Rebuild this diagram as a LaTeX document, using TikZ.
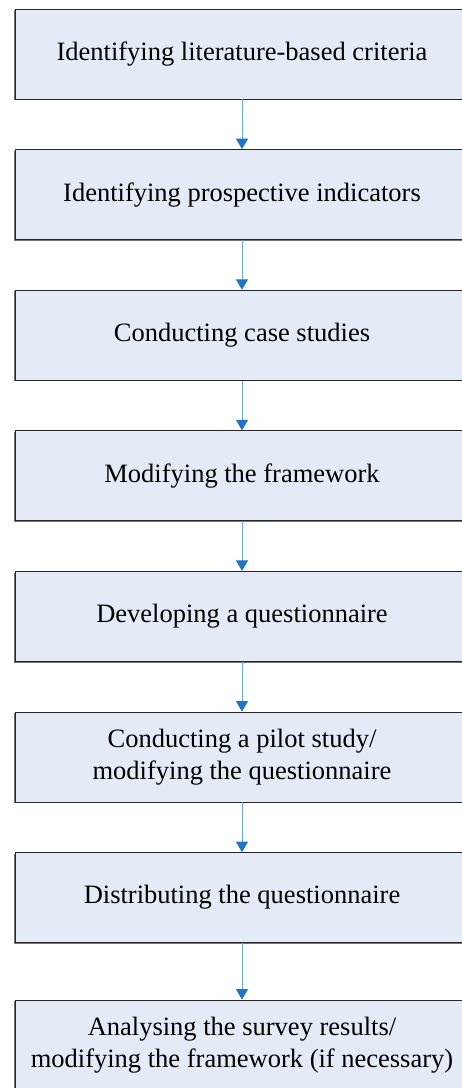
\documentclass[tikz,border=0pt]{standalone}
\usepackage{fontspec}
\setmainfont{Liberation Serif}
\usetikzlibrary{arrows.meta,shadows}
\definecolor{boxfill}{HTML}{E4EBF7}
\definecolor{arrline}{HTML}{6FA8DC}
\definecolor{arrhead}{HTML}{1F74C4}
\begin{document}
\begin{tikzpicture}[x=1pt,y=-1pt,
  stepbox/.style={draw=black!85, line width=0.9pt, fill=boxfill, minimum width=454pt, minimum height=90pt,
    align=center, font=\fontsize{26.5}{32}\selectfont, inner sep=0pt,
    drop shadow={shadow xshift=-1.2pt, shadow yshift=-1.2pt, fill=black!55, opacity=1}},
  conn/.style={draw=arrline, line width=1pt, -{Triangle[width=12pt,length=10.5pt,color=arrhead]}}]
\useasboundingbox (0,0) rectangle (462,1088);
\begin{scope}
\clip (0,0) rectangle (462,1088);
\node[stepbox] (b1) at (242,54) {Identifying literature-based criteria};
\node[stepbox] (b2) at (242,194.6) {Identifying prospective indicators};
\node[stepbox] (b3) at (242,335.2) {Conducting case studies};
\node[stepbox] (b4) at (242,475.8) {Modifying the framework};
\node[stepbox] (b5) at (242,616.4) {Developing a questionnaire};
\node[stepbox] (b6) at (242,757) {Conducting a pilot study/\\modifying the questionnaire};
\node[stepbox] (b7) at (242,897.6) {Distributing the questionnaire};
\node[stepbox] (b8) at (242,1045) {Analysing the survey results/\\modifying the framework (if necessary)};
\foreach \a/\b in {b1/b2,b2/b3,b3/b4,b4/b5,b5/b6,b6/b7,b7/b8}
  \draw[conn] (\a.south) -- (\b.north);
\end{scope}
\end{tikzpicture}
\end{document}
